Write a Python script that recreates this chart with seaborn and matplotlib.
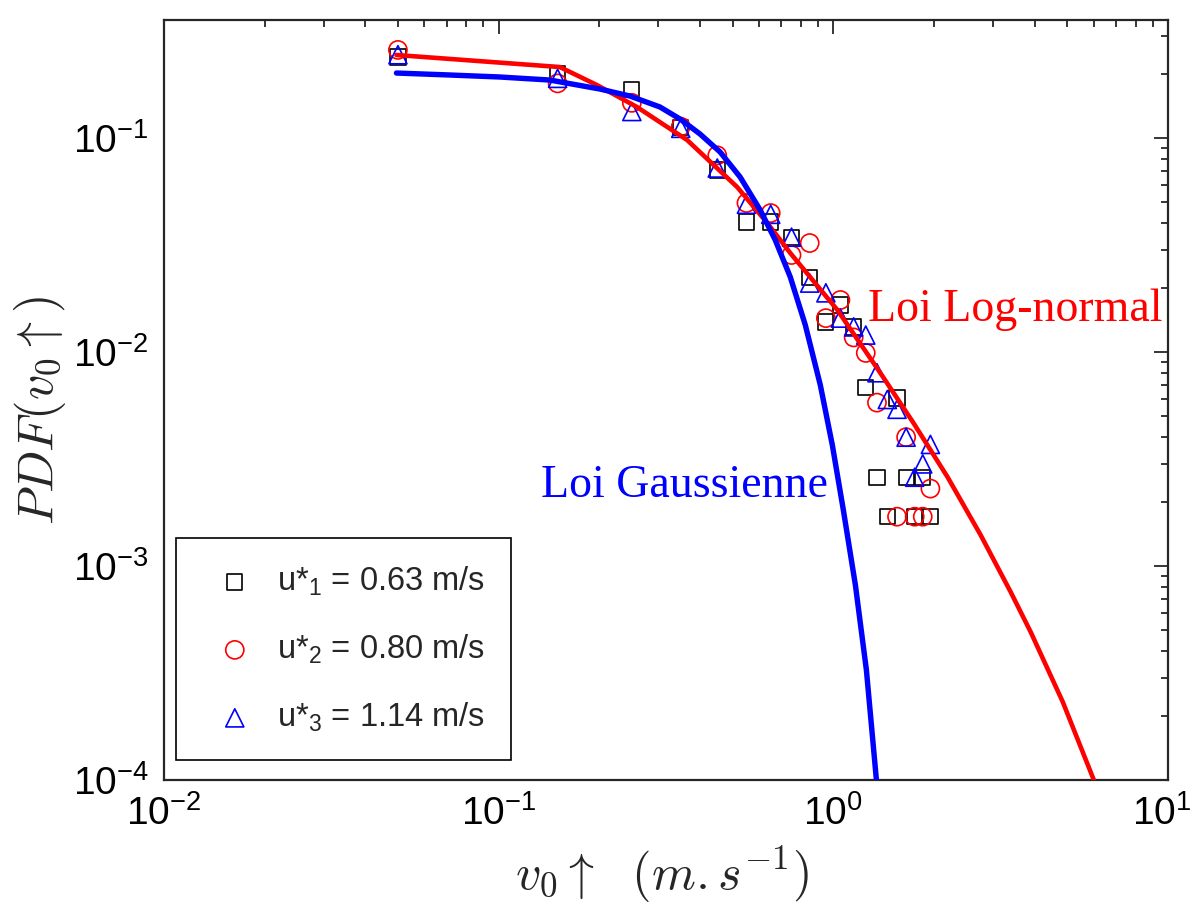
import math
import matplotlib
matplotlib.use("Agg")
import matplotlib.pyplot as plt
import matplotlib.transforms as mtransforms
import seaborn as sns
import pandas as pd
from matplotlib.ticker import FixedLocator, FuncFormatter, LogLocator, NullFormatter

# ---------------- data ----------------
x_sq = [0.05, 0.15, 0.25, 0.35, 0.45, 0.55, 0.65, 0.75, 0.85, 0.95,
        1.05, 1.15, 1.25, 1.35, 1.45, 1.55, 1.65, 1.75, 1.85, 1.95]
y_sq = [0.239, 0.200, 0.168, 0.112, 0.0709, 0.0405, 0.0405, 0.0344, 0.0222, 0.0138,
        0.0166, 0.0131, 0.0068, 0.0026, 0.0017, 0.0061, 0.0026, 0.0017, 0.0026, 0.0017]

x_ci = [0.05, 0.15, 0.25, 0.35, 0.45, 0.55, 0.65, 0.75, 0.85, 0.95,
        1.05, 1.15, 1.25, 1.35, 1.55, 1.65, 1.75, 1.85, 1.95]
y_ci = [0.258, 0.180, 0.146, 0.113, 0.083, 0.0497, 0.0446, 0.0284, 0.0323, 0.0144,
        0.0175, 0.0117, 0.0099, 0.0058, 0.0017, 0.0040, 0.0017, 0.0017, 0.0023]

x_tr = [0.05, 0.15, 0.25, 0.35, 0.45, 0.55, 0.65, 0.75, 0.85, 0.95,
        1.05, 1.15, 1.25, 1.35, 1.45, 1.55, 1.65, 1.75, 1.85, 1.95]
y_tr = [0.245, 0.190, 0.133, 0.111, 0.0724, 0.0490, 0.0440, 0.0344, 0.0210, 0.0189,
        0.0144, 0.0131, 0.0120, 0.0080, 0.0060, 0.0054, 0.0040, 0.0026, 0.0030, 0.0037]

x_lognorm = [0.0495, 0.1523, 0.1965, 0.2589, 0.3655, 0.516, 0.6345, 0.7437, 1.028,
             1.382, 1.736, 2.194, 2.755, 3.388, 3.888, 4.849, 6.003]
y_lognorm = [0.2443, 0.2146, 0.1769, 0.1396, 0.0979, 0.0590, 0.0401, 0.0290, 0.01572,
             0.00798, 0.004658, 0.002605, 0.001396, 7.56e-4, 4.915e-4, 2.315e-4, 1.0e-4]

x_gauss = [0.0495, 0.0713, 0.1007, 0.1421, 0.2006, 0.2467, 0.3034, 0.3482, 0.3996,
           0.4589, 0.5267, 0.6045, 0.6704, 0.7437, 0.8246, 0.9143, 0.9931, 1.0713,
           1.1639, 1.2553, 1.345]
y_gauss = [0.2012, 0.197, 0.1928, 0.1866, 0.1694, 0.1571, 0.1396, 0.1227, 0.1044,
           0.0860, 0.0657, 0.0461, 0.0334, 0.0224, 0.01337, 0.00701, 0.003675, 0.001827,
           8.15e-4, 3.27e-4, 1.0e-4]

labels = [r"u*$_\mathregular{1}$ = 0.63 m/s",
          r"u*$_\mathregular{2}$ = 0.80 m/s",
          r"u*$_\mathregular{3}$ = 1.14 m/s"]
curve_labels = ["Loi Log-normal", "Loi Gaussienne"]
xticks = [1e-2, 1e-1, 1e0, 1e1]
yticks = [1e-4, 1e-3, 1e-2, 1e-1]

# ---------------- style ----------------
sns.set_style("white")
plt.rcParams["font.family"] = ["Liberation Sans", "DejaVu Sans"]

fig = plt.figure(figsize=(11.95, 9.07), dpi=100, facecolor="white")
ax = fig.add_axes([164 / 1195, 127 / 907, 1004 / 1195, 760 / 907])
ax.set_xscale("log")
ax.set_yscale("log")

# markers
sns.scatterplot(x=x_sq, y=y_sq, ax=ax, marker="s", s=120, facecolor="none",
                edgecolor="black", linewidth=1.2, label=labels[0], zorder=2)
sns.scatterplot(x=x_ci, y=y_ci, ax=ax, marker="o", s=170, facecolor="none",
                edgecolor="#FF0000", linewidth=1.2, label=labels[1], zorder=2)
sns.scatterplot(x=x_tr, y=y_tr, ax=ax, marker="^", s=170, facecolor="none",
                edgecolor="#0000FF", linewidth=1.2, label=labels[2], zorder=2)

# fitted curves
df_ln = pd.DataFrame({"x": x_lognorm, "y": y_lognorm})
df_ga = pd.DataFrame({"x": x_gauss, "y": y_gauss})
sns.lineplot(data=df_ln, x="x", y="y", ax=ax, color="#FF0000", linewidth=3.3,
             sort=False, estimator=None, zorder=3, legend=False)
sns.lineplot(data=df_ga, x="x", y="y", ax=ax, color="#0000FF", linewidth=3.9,
             sort=False, estimator=None, zorder=3, legend=False)

ax.set_xlim(1e-2, 1e1)
ax.set_ylim(1e-4, 0.356)

# ticks
fmt = FuncFormatter(lambda v, p: r"$\mathregular{10^{%d}}$" % round(math.log10(v)))
ax.xaxis.set_major_locator(FixedLocator(xticks))
ax.yaxis.set_major_locator(FixedLocator(yticks))
ax.xaxis.set_major_formatter(fmt)
ax.yaxis.set_major_formatter(fmt)
ax.xaxis.set_minor_locator(LogLocator(base=10, subs=range(2, 10)))
ax.yaxis.set_minor_locator(LogLocator(base=10, subs=range(2, 10)))
ax.xaxis.set_minor_formatter(NullFormatter())
ax.yaxis.set_minor_formatter(NullFormatter())
ax.tick_params(which="both", direction="in", top=True, right=True,
               color="#262626", width=1.3, labelsize=28, labelcolor="black")
ax.tick_params(which="major", length=10)
ax.tick_params(which="minor", length=5)
ax.tick_params(axis="x", which="major", pad=11)
ax.tick_params(axis="y", which="major", pad=11)
for sp in ax.spines.values():
    sp.set_color("#262626")
    sp.set_linewidth(1.6)

# keep the last x tick label inside the canvas
fig.canvas.draw()
last = ax.get_xticklabels()[-1]
last.set_transform(last.get_transform() +
                   mtransforms.ScaledTranslation(-6 / 100, 0, fig.dpi_scale_trans))

# axis labels
ax.set_xlabel(r"$v_0\uparrow\ \ (m{.}s^{-1})$", fontsize=36, math_fontfamily="cm")
ax.xaxis.set_label_coords(0.496, -0.085)
ax.set_ylabel("")
fig.text(40 / 1195, 1 - 410 / 907, r"$PDF(v_0\uparrow)$", fontsize=36,
         math_fontfamily="cm", rotation=90, ha="center", va="center")

# curve annotations
ax.text(1.27, 0.0140, curve_labels[0], color="#FF0000", fontsize=33,
        family="Liberation Serif", va="baseline", ha="left")
ax.text(0.1336, 0.0021, curve_labels[1], color="#0000FF", fontsize=33,
        family="Liberation Serif", va="baseline", ha="left")

# legend
leg = ax.legend(loc="lower left", bbox_to_anchor=(0.012, 0.026), borderaxespad=0,
                fontsize=23.5, frameon=True, fancybox=False, edgecolor="black",
                framealpha=1, labelspacing=1.05, handletextpad=0.3,
                borderpad=0.8, handlelength=2.0)
leg.get_frame().set_linewidth(1.2)

fig.savefig("out.png", dpi=100, facecolor="white")
